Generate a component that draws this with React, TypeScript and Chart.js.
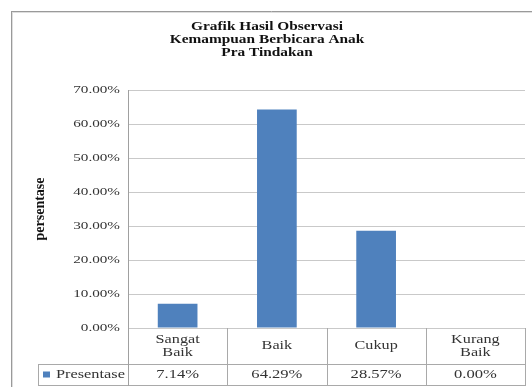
import React, { useEffect, useRef } from "react";
import { Chart, registerables } from "chart.js";

Chart.register(...registerables);

const titleLines = ["Grafik Hasil Observasi", "Kemampuan Berbicara Anak", "Pra Tindakan"];
const categories = [["Sangat", "Baik"], ["Baik"], ["Cukup"], ["Kurang", "Baik"]];
const seriesName = "Presentase";
const values = [7.14, 64.29, 28.57, 0.0];
const yMin = 0;
const yMax = 70;
const yStep = 10;
const yAxisTitle = "persentase";

const BAR = "#4F81BD";
const LINE = "#a9a9a9";
const GRID = "#c9c9c9";
const SERIF = "'Liberation Serif', 'Times New Roman', serif";
const SX = 1.35;

const fmt = (v: number) => v.toFixed(2) + "%";

function txt(ctx: CanvasRenderingContext2D, s: string, x: number, y: number, font: string, color: string, align: CanvasTextAlign, sx = SX) {
  ctx.save();
  ctx.font = font;
  ctx.fillStyle = color;
  ctx.textAlign = align;
  ctx.textBaseline = "middle";
  ctx.translate(x, y);
  ctx.scale(sx, 1);
  ctx.fillText(s, 0, 0);
  ctx.restore();
}

function hline(ctx: CanvasRenderingContext2D, x1: number, x2: number, y: number, c = LINE) {
  ctx.beginPath();
  ctx.strokeStyle = c;
  ctx.lineWidth = 1;
  ctx.moveTo(x1, Math.round(y) + 0.5);
  ctx.lineTo(x2, Math.round(y) + 0.5);
  ctx.stroke();
}
function vline(ctx: CanvasRenderingContext2D, x: number, y1: number, y2: number, c = LINE) {
  ctx.beginPath();
  ctx.strokeStyle = c;
  ctx.lineWidth = 1;
  ctx.moveTo(Math.round(x) + 0.5, y1);
  ctx.lineTo(Math.round(x) + 0.5, y2);
  ctx.stroke();
}

const framePlugin = {
  id: "frame",
  beforeDraw(chart: any) {
    const ctx = chart.ctx as CanvasRenderingContext2D;
    ctx.save();
    ctx.fillStyle = "#ffffff";
    ctx.fillRect(0, 0, chart.width, chart.height);
    hline(ctx, 11, chart.width, 11, "#9a9a9a");
    vline(ctx, 11, 11, chart.height, "#9a9a9a");
    hline(ctx, 12, chart.width, 12, "#dedede");
    vline(ctx, 12, 12, chart.height, "#dedede");
    ctx.restore();
  },
};

const tablePlugin = {
  id: "table",
  afterDraw(chart: any) {
    const ctx = chart.ctx as CanvasRenderingContext2D;
    const ca = chart.chartArea;
    const xs = chart.scales.x;
    const ys = chart.scales.y;
    ctx.save();

    // title
    const tcx = 267;
    titleLines.forEach((l, i) => txt(ctx, l, tcx, 27 + i * 13, `bold 12px ${SERIF}`, "#111", "center", 1.28));

    // y tick labels
    for (let v = yMin; v <= yMax + 1e-9; v += yStep) {
      const py = ys.getPixelForValue(v);
      txt(ctx, fmt(v), ca.left - 8, py, `11px ${SERIF}`, "#333", "right", 1.38);
    }

    // y axis title (rotated)
    ctx.save();
    ctx.translate(40, (ca.top + ca.bottom) / 2);
    ctx.rotate(-Math.PI / 2);
    ctx.font = `bold 14px ${SERIF}`;
    ctx.fillStyle = "#111";
    ctx.textAlign = "center";
    ctx.textBaseline = "middle";
    ctx.fillText(yAxisTitle, 0, 0);
    ctx.restore();

    // data table
    const n = categories.length;
    const half = (ca.right - ca.left) / n / 2;
    const row1 = ca.bottom + 36;
    const row2 = ca.bottom + 57;
    const legLeft = 38;
    hline(ctx, legLeft, ca.right + 1, row1);
    hline(ctx, legLeft, ca.right + 1, row2);
    vline(ctx, legLeft, row1, row2 + 1);
    vline(ctx, ca.left, ca.top, row2 + 1, "#a0a0a0");
    for (let i = 0; i < n; i++) {
      const cx = xs.getPixelForValue(i);
      vline(ctx, cx + half, ca.bottom, row2 + 1);
      const lines = categories[i];
      const mid = (ca.bottom + row1) / 2;
      lines.forEach((l, j) => {
        const yy = mid + (j - (lines.length - 1) / 2) * 13;
        txt(ctx, l, cx, yy, `12px ${SERIF}`, "#333", "center", 1.35);
      });
      txt(ctx, fmt(values[i]), cx, (row1 + row2) / 2, `12px ${SERIF}`, "#333", "center", 1.38);
    }
    // legend cell
    ctx.fillStyle = BAR;
    ctx.fillRect(43, (row1 + row2) / 2 - 3, 7, 6);
    txt(ctx, seriesName, 56, (row1 + row2) / 2, `12px ${SERIF}`, "#333", "left", 1.36);
    ctx.restore();
  },
};

export default function App() {
  const ref = useRef<HTMLCanvasElement | null>(null);
  useEffect(() => {
    if (!ref.current) return;
    const chart = new Chart(ref.current, {
      type: "bar",
      data: {
        labels: categories.map((c) => c.join(" ")),
        datasets: [
          {
            label: seriesName,
            data: values,
            backgroundColor: BAR,
            borderWidth: 0,
            categoryPercentage: 1,
            barPercentage: 0.4,
          },
        ],
      },
      options: {
        responsive: false,
        animation: false,
        devicePixelRatio: 1,
        layout: { padding: { left: 0, top: 90, right: 7, bottom: 59 } },
        plugins: {
          legend: { display: false },
          title: { display: false },
          tooltip: { enabled: false },
        },
        scales: {
          x: { display: false },
          y: {
            min: yMin,
            max: yMax,
            ticks: { display: false, stepSize: yStep },
            grid: { color: GRID, drawTicks: false },
            border: { display: true, color: "#a0a0a0" },
            afterFit: (s: any) => {
              s.width = 128;
            },
          },
        },
      },
      plugins: [framePlugin, tablePlugin],
    });
    return () => chart.destroy();
  }, []);
  return (
    <div style={{ position: "fixed", left: 0, top: 0, width: 532, height: 387 }}>
      <canvas ref={ref} width={532} height={387} />
    </div>
  );
}
